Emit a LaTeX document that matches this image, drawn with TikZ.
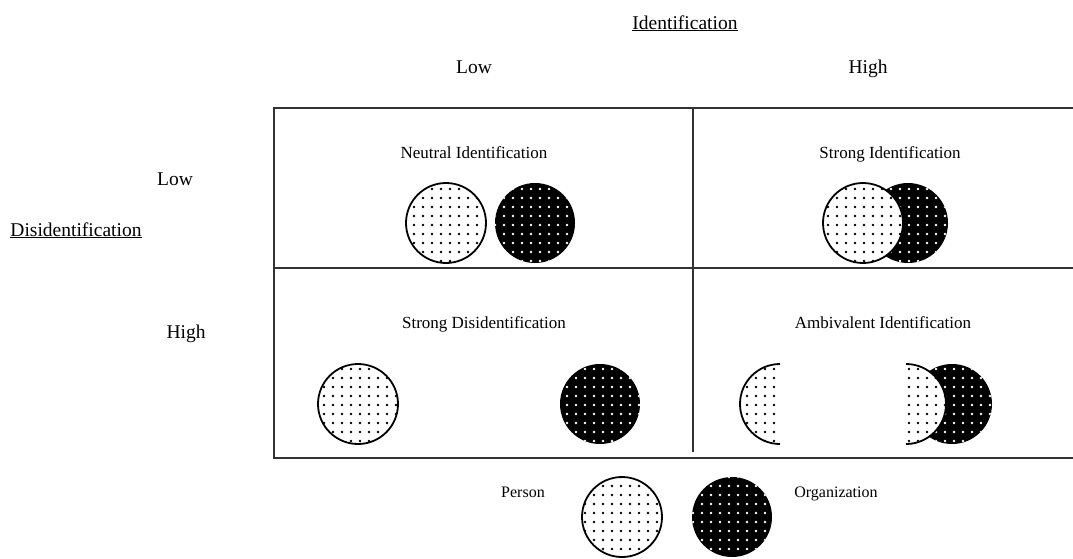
\documentclass[tikz,border=0pt]{standalone}
\usepackage{fontspec}
\setmainfont{Liberation Serif}
\usetikzlibrary{patterns.meta, positioning}

\begin{document}
\begin{tikzpicture}[
    x=1pt, y=-1pt,
    font=\fontsize{17}{20}\selectfont,
    lbl/.style = {anchor=base, inner sep=0pt},
    axis/.style = {lbl, font=\fontsize{19.5}{22}\selectfont},
    legend/.style = {lbl, font=\fontsize{16}{19}\selectfont},
    frame/.style = {line width=1.8pt, black!80},
    person/.style = {draw, line width=1.8pt, pattern={Dots[radius=1.35pt, distance=9pt]}, pattern color=black, preaction={fill=white}},
    org/.style = {pattern={Dots[radius=1.35pt, distance=9pt]}, pattern color=white, preaction={fill=black}},
    disk/.style = {circle, minimum size=80pt, inner sep=0pt}]

    \useasboundingbox (0,0) rectangle (1073,558);

    % axis labels
    \node[axis] (ident) at (685,29) {\underline{Identification}};
    \node[axis] (idlow) at (474,73) {Low};
    \node[axis] (idhigh) at (868,73) {High};
    \node[axis] (disid) at (76,236) {\underline{Disidentification}};
    \node[axis] (dislow) at (175,185) {Low};
    \node[axis] (dishigh) at (186,338) {High};

    % grid
    \draw[frame] (1073,108) -- (274,108) -- (274,458) -- (1073,458);
    \draw[frame] (274,268) -- (1073,268);
    \draw[frame, line width=1.5pt] (693,108) -- (693,452);

    % cell titles
    \node[lbl] (neutral) at (474,158) {Neutral Identification};
    \node[lbl] (strongid) at (890,158) {Strong Identification};
    \node[lbl] (strongdis) at (484,328) {Strong Disidentification};
    \node[lbl] (ambiv) at (883,328) {Ambivalent Identification};

    % neutral identification
    \node[disk, person] (np) at (446,223) {};
    \node[disk, org] (no) at (535,223) {};

    % strong identification
    \node[disk, org] (so) at (908,223) {};
    \node[disk, person] (sp) at (863,223) {};

    % strong disidentification
    \node[disk, person] (dp) at (358,404) {};
    \node[disk, org] (do) at (600,404) {};

    % ambivalent identification
    \path[person] (780,444) arc[start angle=90, end angle=270, radius=40];
    \node[disk, org] (ao) at (952,404) {};
    \path[person] (906,364) arc[start angle=270, end angle=450, radius=40];

    % legend
    \node[legend] (person) at (523,497) {Person};
    \node[disk, person] (lp) at (622,517) {};
    \node[disk, org] (lo) at (732,517) {};
    \node[legend] (organization) at (836,497) {Organization};
\end{tikzpicture}
\end{document}
